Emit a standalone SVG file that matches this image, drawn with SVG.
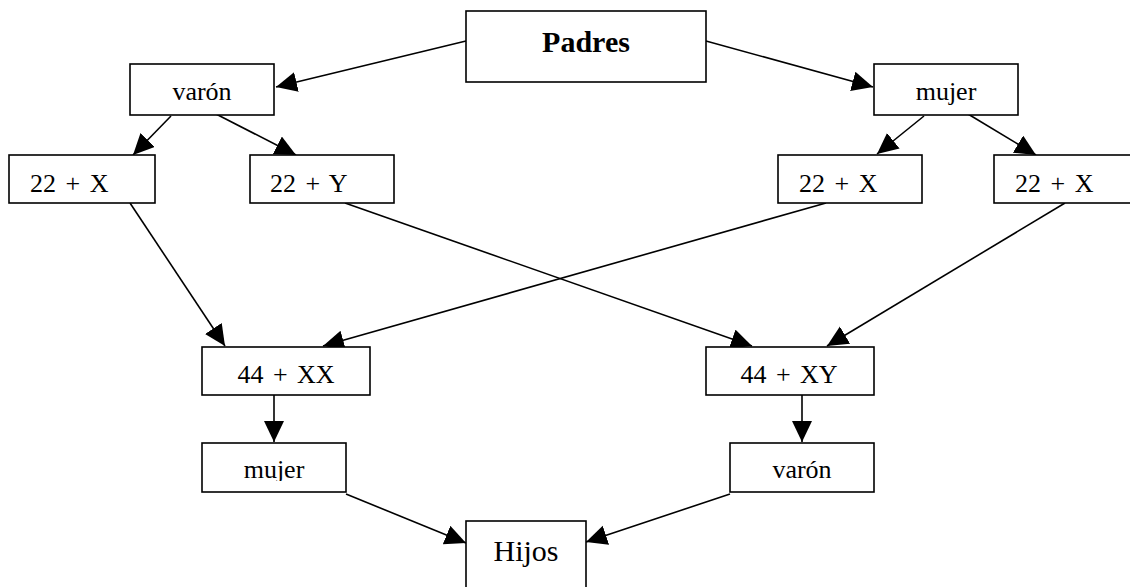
<svg xmlns="http://www.w3.org/2000/svg" width="1130" height="587" viewBox="0 0 1130 587">
<style>
  .box { fill: #ffffff; stroke: #000000; stroke-width: 1.6; }
  .lbl { font-family: "Liberation Serif", "Times New Roman", serif; font-size: 26px; fill: #000000; }
  .c { text-anchor: middle; }
  .ws { word-spacing: 3px; }
  .big { font-size: 30px; }
  .bold { font-weight: bold; }
  .edge { stroke: #000000; stroke-width: 1.6; fill: none; marker-end: url(#arr); }
</style>
<defs>
  <marker id="arr" markerUnits="userSpaceOnUse" markerWidth="22" markerHeight="22" refX="21" refY="10" orient="auto">
    <path d="M0,0 L21,10 L0,20 Z" fill="#000000"/>
  </marker>
  <clipPath id="clipMujer2"><rect x="202" y="443" width="144" height="38"/></clipPath>
</defs>
<rect width="1130" height="587" fill="#ffffff"/>

<g id="connectors">
  <line class="edge" x1="466" y1="41" x2="276" y2="87"/>
  <line class="edge" x1="706" y1="41" x2="873" y2="87"/>
  <line class="edge" x1="171" y1="116" x2="133" y2="155"/>
  <line class="edge" x1="216" y1="114" x2="296" y2="155"/>
  <line class="edge" x1="924" y1="116" x2="877" y2="154"/>
  <line class="edge" x1="968" y1="114" x2="1036" y2="155"/>
  <line class="edge" x1="130" y1="203" x2="225" y2="346"/>
  <line class="edge" x1="345" y1="203" x2="752" y2="346"/>
  <line class="edge" x1="826" y1="203" x2="323" y2="346"/>
  <line class="edge" x1="1065" y1="203" x2="827" y2="346"/>
  <line class="edge" x1="274" y1="395" x2="274" y2="442"/>
  <line class="edge" x1="802" y1="395" x2="802" y2="442"/>
  <line class="edge" x1="346" y1="494" x2="466" y2="543"/>
  <line class="edge" x1="730" y1="494" x2="586" y2="542"/>
</g>

<g id="padres">
  <rect class="box" x="466" y="11" width="240" height="71"/>
  <text class="lbl c big bold" x="586" y="52">Padres</text>
</g>
<g id="varon-top">
  <rect class="box" x="130" y="64" width="144" height="51"/>
  <text class="lbl c" x="202" y="100">varón</text>
</g>
<g id="mujer-top">
  <rect class="box" x="874" y="64" width="144" height="51"/>
  <text class="lbl c" x="946" y="100">mujer</text>
</g>
<g id="x-left">
  <rect class="box" x="9" y="155" width="146" height="48"/>
  <text class="lbl ws" x="30" y="192">22 + X</text>
</g>
<g id="y-varon">
  <rect class="box" x="250" y="155" width="144" height="48"/>
  <text class="lbl ws" x="270" y="192">22 + Y</text>
</g>
<g id="x-mid">
  <rect class="box" x="778" y="155" width="144" height="48"/>
  <text class="lbl ws" x="799" y="192">22 + X</text>
</g>
<g id="x-right">
  <rect class="box" x="994" y="155" width="144" height="48"/>
  <text class="lbl ws" x="1015" y="192">22 + X</text>
</g>
<g id="xx">
  <rect class="box" x="202" y="347" width="168" height="48"/>
  <text class="lbl c ws" x="286" y="383">44 + XX</text>
</g>
<g id="xy">
  <rect class="box" x="706" y="347" width="168" height="48"/>
  <text class="lbl c ws" x="789" y="383">44 + XY</text>
</g>
<g id="mujer-bottom">
  <rect class="box" x="202" y="443" width="144" height="49"/>
  <text class="lbl c" x="274" y="478" clip-path="url(#clipMujer2)">mujer</text>
</g>
<g id="varon-bottom">
  <rect class="box" x="730" y="443" width="144" height="49"/>
  <text class="lbl c" x="802" y="478">varón</text>
</g>
<g id="hijos">
  <rect class="box" x="466" y="521" width="120" height="72"/>
  <text class="lbl c big" x="526" y="561">Hijos</text>
</g>
</svg>
